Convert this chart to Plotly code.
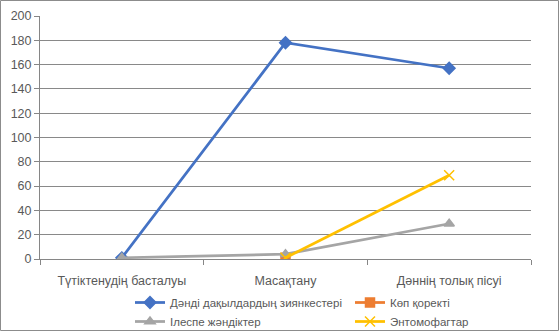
import plotly.graph_objects as go

categories = ["Түтіктенудің басталуы", "Масақтану", "Дәннің толық пісуі"]
series_names = ["Дәнді дақылдардың зиянкестері", "Көп қоректі", "Ілеспе жәндіктер", "Энтомофагтар"]
blue_vals = [1, 178, 157]
orange_vals = [None, 1, None]
gray_vals = [1, 4, 29]
yellow_vals = [None, 1, 69]
y_ticks = [0, 20, 40, 60, 80, 100, 120, 140, 160, 180, 200]

colors = ["#4472C4", "#ED7D31", "#A5A5A5", "#FFC000"]
symbols = ["diamond", "square", "triangle-up", "x-thin-open"]
sizes = [9, 9, 9, 10]
legend_ids = ["legend", "legend2", "legend", "legend2"]

W, H = 559, 331
ml, mr, mt, mb = 40, 28, 16, 72

fig = go.Figure()
for name, vals, c, s, sz, lg in zip(series_names, [blue_vals, orange_vals, gray_vals, yellow_vals],
                                    colors, symbols, sizes, legend_ids):
    fig.add_trace(go.Scatter(
        x=categories, y=vals, name=name, mode="lines+markers",
        line=dict(color=c, width=2.75),
        marker=dict(symbol=s, size=sz, color=c, line=dict(color=c, width=1.5)),
        connectgaps=False, legend=lg,
    ))

pw = W - ml - mr
ph = H - mt - mb
fig.add_shape(type="rect", xref="paper", yref="paper",
              x0=(0.5 - ml) / pw, x1=(W - ml - 0.5) / pw,
              y0=-(mb - 0.5) / ph, y1=(H - mb - 0.5) / ph,
              line=dict(color="#8C8C8C", width=1), fillcolor="rgba(0,0,0,0)", layer="below")

leg_common = dict(orientation="v", yanchor="top", y=-(288 - (H - mb)) / ph, xanchor="left",
                  tracegroupgap=0, font=dict(size=11.5, color="#595959"), itemwidth=30,
                  bgcolor="rgba(0,0,0,0)", borderwidth=0)

fig.update_layout(
    width=W, height=H,
    margin=dict(l=ml, r=mr, t=mt, b=mb, autoexpand=False),
    paper_bgcolor="white", plot_bgcolor="white",
    font=dict(family="Liberation Sans, Arial, sans-serif", size=12.5, color="#595959"),
    showlegend=True,
    legend=dict(x=(130 - ml) / pw, **leg_common),
    legend2=dict(x=(350 - ml) / pw, **leg_common),
    xaxis=dict(type="category", range=[-0.5, 2.5], tickson="boundaries", ticks="outside",
               ticklen=5, tickcolor="#868686", showline=True, linecolor="#868686",
               showgrid=False, zeroline=False, fixedrange=True, ticklabelstandoff=10,
               automargin=False),
    yaxis=dict(range=[0, 200], tickvals=y_ticks, ticks="outside", ticklen=5,
               tickcolor="#868686", showline=True, linecolor="#868686",
               showgrid=True, gridcolor="#898989", gridwidth=1, zeroline=False,
               automargin=False),
)

fig.write_html("out.html")
